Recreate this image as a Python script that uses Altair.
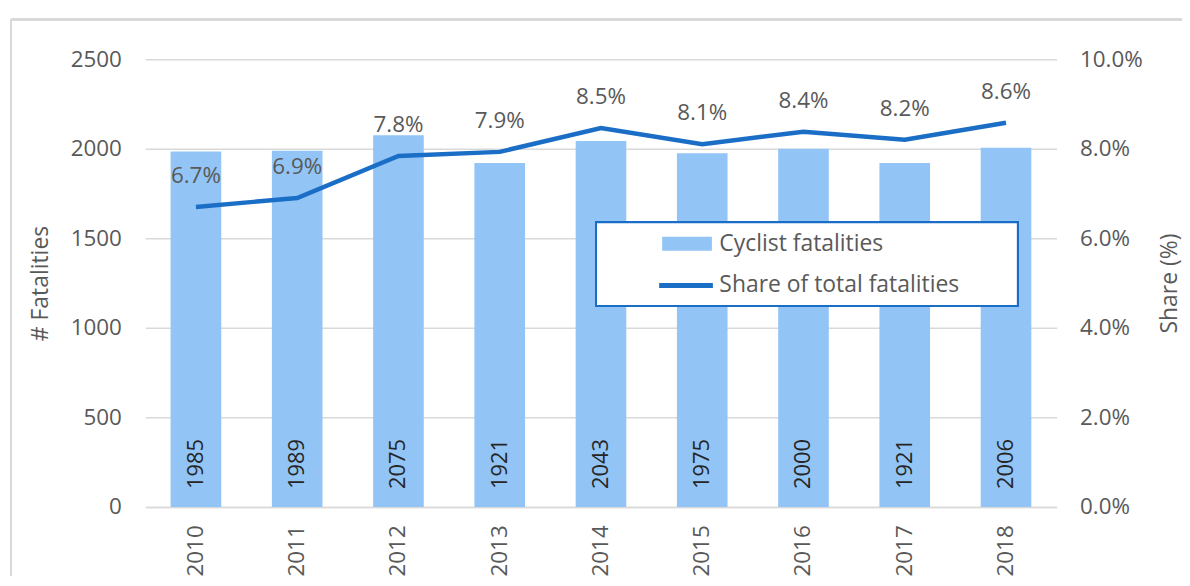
import altair as alt
import pandas as pd

years = ["2010", "2011", "2012", "2013", "2014", "2015", "2016", "2017", "2018"]
fatalities = [1985, 1989, 2075, 1921, 2043, 1975, 2000, 1921, 2006]
share = [0.067, 0.069, 0.0784, 0.0793, 0.0846, 0.081, 0.0838, 0.082, 0.0858]
series = ["Cyclist fatalities", "Share of total fatalities"]

df = pd.DataFrame({"year": years, "fatalities": fatalities, "share": share})

BAR = "#92C5F5"
LINE = "#1B6EC6"
GRAY = "#595959"
FONT = "Open Sans"

# legend 1: both labels, swatch for bars (second swatch hidden in white)
legend_main = alt.Legend(
    title=None, orient="none", legendX=452, legendY=163, zindex=1,
    padding=11,
    labelFont=FONT, labelFontSize=23, labelColor=GRAY, labelLimit=500,
    symbolType="M-2.5,-0.7H2.5V0.7H-2.5Z", symbolSize=400, symbolOffset=70,
    symbolStrokeWidth=0, symbolOpacity=1,
    labelOffset=21, rowPadding=18,
)
# legend 2: line symbol only, overlaid on the second entry
legend_line = alt.Legend(
    title=None, orient="none", legendX=531, legendY=215, zindex=2,
    padding=0, labelExpr="''", labelFontSize=23, labelFont=FONT,
    symbolType="M-2.7,0H2.7", symbolSize=400, symbolStrokeWidth=5, symbolOpacity=1,
)

x = alt.X("year:N", sort=years, title=None,
          scale=alt.Scale(paddingInner=0.5, paddingOuter=0.25),
          axis=alt.Axis(labelAngle=270, labelAlign="right", labelBaseline="middle",
                        labelPadding=18, domain=True, domainColor="#D9D9D9",
                        domainWidth=1.5, ticks=False, grid=False))

base = alt.Chart(df)

bars = base.transform_calculate(series=f"'{series[0]}'").mark_bar().encode(
    x=x,
    y=alt.Y("fatalities:Q", title="# Fatalities",
            scale=alt.Scale(domain=[0, 2500], nice=False),
            axis=alt.Axis(values=[0, 500, 1000, 1500, 2000, 2500], format="d",
                          orient="left", labelPadding=24, titlePadding=18)),
    color=alt.Color("series:N",
                    scale=alt.Scale(domain=series, range=[BAR, "white"]),
                    legend=legend_main),
)

bar_labels = base.mark_text(
    angle=270, align="left", baseline="middle", dx=18,
    font=FONT, fontSize=22, color="#262626"
).encode(
    x=alt.X("year:N", sort=years),
    y=alt.datum(0),
    text=alt.Text("fatalities:Q", format="d"),
)

# frame of the legend box, drawn above the bars
legend_box = base.mark_rect(fill="white", stroke=LINE, strokeWidth=2).encode(
    x=alt.value(453), x2=alt.value(877), y=alt.value(164), y2=alt.value(248))

left = alt.layer(bars, bar_labels)

share_y = alt.Y("share:Q", title="Share (%)",
                scale=alt.Scale(domain=[0, 0.10], nice=False),
                axis=alt.Axis(values=[0, 0.02, 0.04, 0.06, 0.08, 0.10], format=".1%",
                              orient="right", labelPadding=23, titlePadding=39,
                              titleAngle=270, grid=False))

line = base.transform_calculate(series=f"'{series[1]}'").mark_line(strokeWidth=4.5).encode(
    x=alt.X("year:N", sort=years),
    y=share_y,
    stroke=alt.Stroke("series:N",
                      scale=alt.Scale(domain=[series[1]], range=[LINE]),
                      legend=legend_line),
)

line_labels = base.mark_text(
    baseline="middle", align="center", dy=-31, font=FONT, fontSize=22.5, color=GRAY
).encode(
    x=alt.X("year:N", sort=years),
    y=share_y,
    text=alt.Text("share:Q", format=".1%"),
)

right = alt.layer(line, line_labels)

frame_top = base.mark_rule(color="#D9D9D9", strokeWidth=2).encode(
    x=alt.value(-135), x2=alt.value(1100), y=alt.value(-40))
frame_left = base.mark_rule(color="#D9D9D9", strokeWidth=2).encode(
    x=alt.value(-135), y=alt.value(-40), y2=alt.value(600))

chart = alt.layer(left, right, legend_box, frame_top, frame_left).resolve_scale(
    y="independent"
).properties(
    width=916, height=450,
    padding={"left": 138, "top": 50, "right": 126, "bottom": 68},
    autosize=alt.AutoSizeParams(type="none"),
).configure_view(stroke=None).configure_axis(
    labelFont=FONT, labelFontSize=22.5, labelColor=GRAY,
    titleFont=FONT, titleFontSize=23, titleColor=GRAY, titleFontWeight="normal",
    gridColor="#D9D9D9", gridWidth=1.5, domain=False, ticks=False,
)

chart.save("out.html", embed_options={"renderer": "svg", "actions": False})
